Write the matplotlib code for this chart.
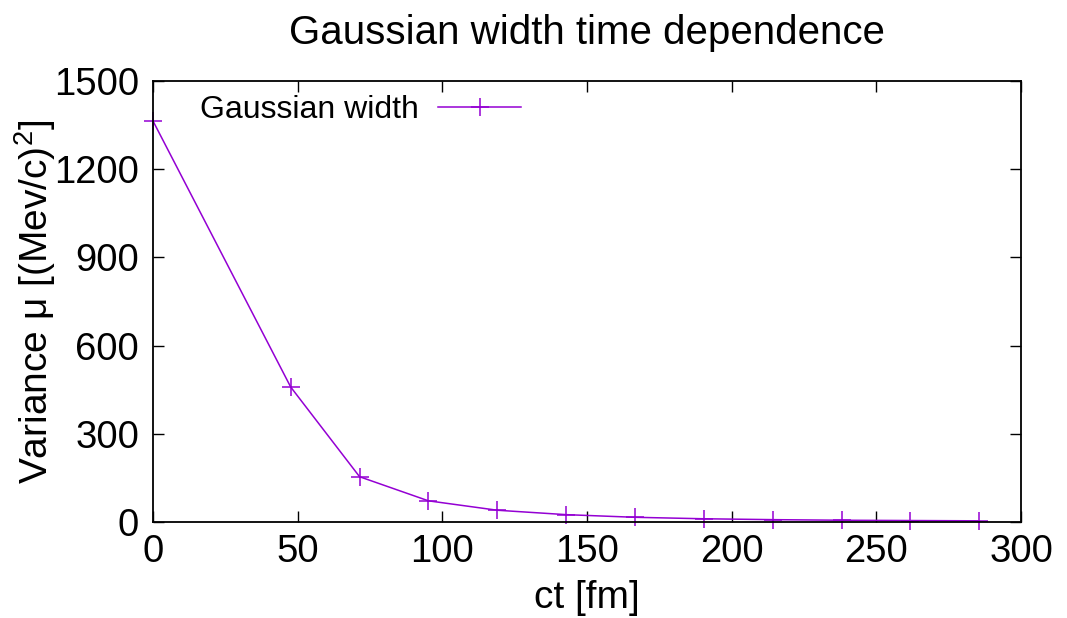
import matplotlib
matplotlib.use("Agg")
import matplotlib.pyplot as plt

# data (ct in fm, variance in (MeV/c)^2)
ct = [0, 47.6, 71.4, 95.2, 119.0, 142.8, 166.6, 190.4, 214.2, 238.0, 261.8, 285.6]
variance = [1364, 459, 154, 72, 40, 25, 16, 11, 8, 6, 5, 4]

x_ticks = [0, 50, 100, 150, 200, 250, 300]
y_ticks = [0, 300, 600, 900, 1200, 1500]

plt.rcParams['font.family'] = ['Liberation Sans', 'DejaVu Sans']
plt.rcParams['mathtext.fontset'] = 'custom'
plt.rcParams['mathtext.rm'] = 'Liberation Sans'
plt.rcParams['mathtext.default'] = 'regular'

fig = plt.figure(figsize=(10.67, 6.18), dpi=100)
ax = fig.add_axes([153/1067, 1 - 522/618, 868/1067, 441/618])

ax.plot(ct, variance, color='#9400D3', lw=1.1, marker='+', ms=13, mew=1.1,
        label='Gaussian width', clip_on=False)

ax.set_xlim(0, 300)
ax.set_ylim(0, 1500)
ax.set_xticks(x_ticks)
ax.set_yticks(y_ticks)
ax.tick_params(direction='in', length=8, width=1, labelsize=27.5,
               top=True, right=True)
ax.tick_params(axis='x', pad=9)
ax.tick_params(axis='y', pad=10)
for s in ax.spines.values():
    s.set_linewidth(1.3)

ax.set_title('Gaussian width time dependence', fontsize=29, pad=27)
ax.set_xlabel('ct [fm]', fontsize=28, labelpad=7)
ax.set_ylabel('Variance \u03bc [(Mev/c)$^2$]', fontsize=28, labelpad=-3)

ax.legend(loc='center left', bbox_to_anchor=(200/1067, 1 - 110/618),
          bbox_transform=fig.transFigure, frameon=False, markerfirst=False,
          fontsize=23, handlelength=2.6, handletextpad=0.6,
          borderpad=0, borderaxespad=0)

fig.savefig('out.png', dpi=100)
